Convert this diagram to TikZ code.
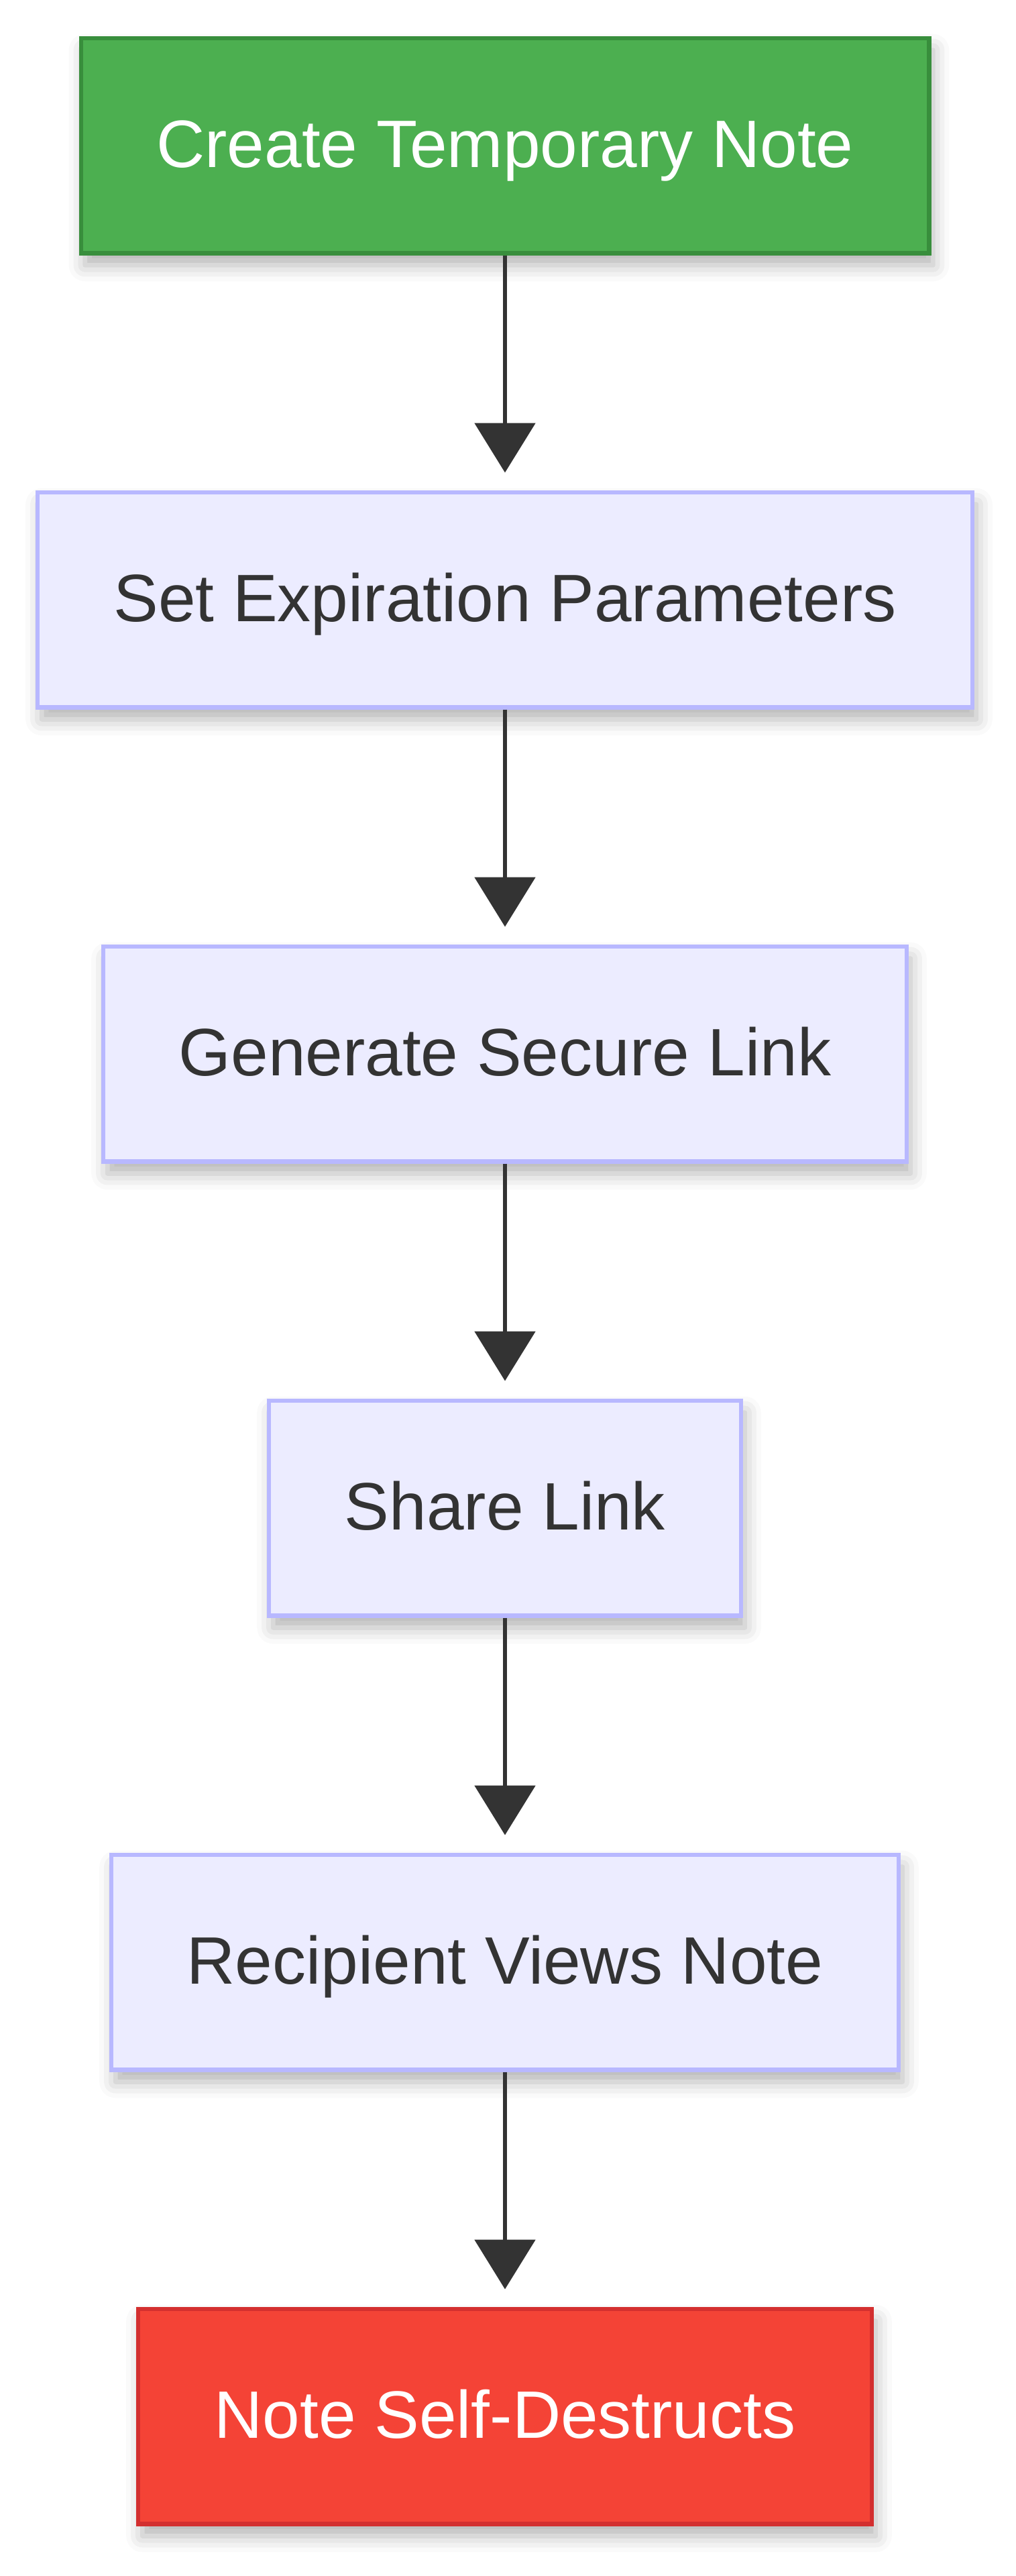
\documentclass[tikz,border=0pt]{standalone}
\usepackage{fontspec}
\setmainfont{Liberation Sans}
\usetikzlibrary{arrows.meta, positioning, shadows.blur}
\definecolor{startgreen}{HTML}{4CAF50}
\definecolor{startgreenline}{HTML}{388E3C}
\definecolor{endred}{HTML}{F44336}
\definecolor{endredline}{HTML}{D32F2F}
\definecolor{stepfill}{HTML}{ECECFF}
\definecolor{stepline}{HTML}{B8B8FF}
\definecolor{textgray}{HTML}{333333}

\begin{document}
\begin{tikzpicture}[
    box/.style={rectangle, draw, line width=3.2pt, minimum height=160.3pt, inner sep=0pt, font=\fontsize{50}{60}\selectfont, text height=32.3pt, text depth=0pt, text centered, blur shadow={shadow xshift=3pt, shadow yshift=-9pt, shadow blur radius=12pt, shadow opacity=30}},
    stepbox/.style={box, fill=stepfill, draw=stepline, text=textgray},
    flow/.style={draw=textgray, line width=3pt, -{Triangle[width=45pt, length=37pt]}, shorten >=13pt}
]
\useasboundingbox (0,0) rectangle (757.5pt,-1920pt);
\node[box, fill=startgreen, draw=startgreenline, text=white, minimum width=632.3pt] (create) at (376.5pt,-108.5pt) {Create Temporary Note};
\node[stepbox, minimum width=696.8pt, below=175pt of create] (expire) {Set Expiration Parameters};
\node[stepbox, minimum width=598.8pt, below=175pt of expire] (link) {Generate Secure Link};
\node[stepbox, minimum width=351.8pt, below=175pt of link] (share) {Share Link};
\node[stepbox, minimum width=586.8pt, below=175pt of share] (view) {Recipient Views Note};
\node[box, fill=endred, draw=endredline, text=white, minimum width=546.8pt, below=175pt of view] (destruct) {Note Self-Destructs};
\draw[flow] (create) -- (expire);
\draw[flow] (expire) -- (link);
\draw[flow] (link) -- (share);
\draw[flow] (share) -- (view);
\draw[flow] (view) -- (destruct);
\end{tikzpicture}
\end{document}
